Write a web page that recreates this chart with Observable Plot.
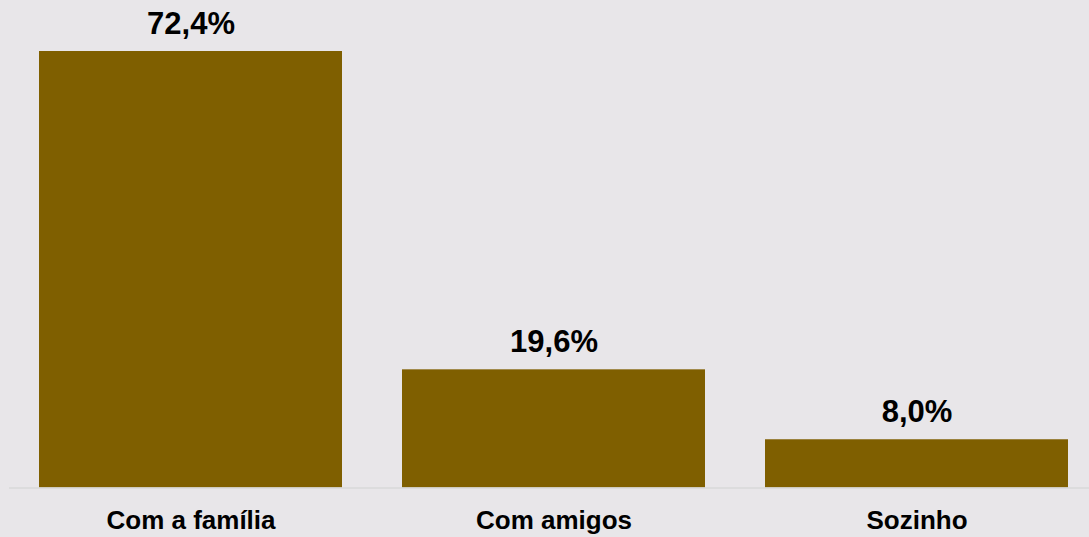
<!DOCTYPE html>
<html>
<head>
<meta charset="utf-8">
<script src="https://cdn.jsdelivr.net/npm/d3@7"></script>
<script src="https://cdn.jsdelivr.net/npm/@observablehq/plot@0.6"></script>
<style>
  html, body { margin: 0; padding: 0; background: #E8E6E9; }
  #chart { width: 1089px; height: 537px; overflow: hidden; }
  svg { display: block; }
</style>
</head>
<body>
<div id="chart"></div>
<script>
const categories = ["Com a família", "Com amigos", "Sozinho"];
const values = [72.4, 19.6, 8.0];
const valueLabels = ["72,4%", "19,6%", "8,0%"];

const data = categories.map((c, i) => ({category: c, value: values[i], label: valueLabels[i]}));

const font = "'Liberation Sans', Arial, Helvetica, sans-serif";

const chart = Plot.plot({
  width: 1089,
  height: 537,
  marginLeft: 9,
  marginRight: 0,
  marginTop: 0,
  marginBottom: 49.5,
  style: {background: "#E8E6E9", fontFamily: font, overflow: "visible"},
  x: {domain: categories, range: [9, 1098], paddingInner: 60 / 363, paddingOuter: 30 / 363, label: null},
  y: {domain: [0, 72.4], range: [487.5, 51], axis: null},
  marks: [
    Plot.barY(data, {x: "category", y: "value", fill: "#7F5F00"}),
    Plot.ruleY([0], {stroke: "#D9D9D9", strokeWidth: 1.5}),
    Plot.text(data, {x: "category", y: "value", text: "label", lineAnchor: "bottom", dy: -18,
      fontSize: 31, fontWeight: "bold", fill: "#000", fontFamily: font}),
    Plot.axisX({tickSize: 0, tickPadding: 23, fontSize: 26, fontWeight: "bold", color: "#000", label: null, fontFamily: font})
  ]
});
document.getElementById("chart").appendChild(chart);
</script>
</body>
</html>
